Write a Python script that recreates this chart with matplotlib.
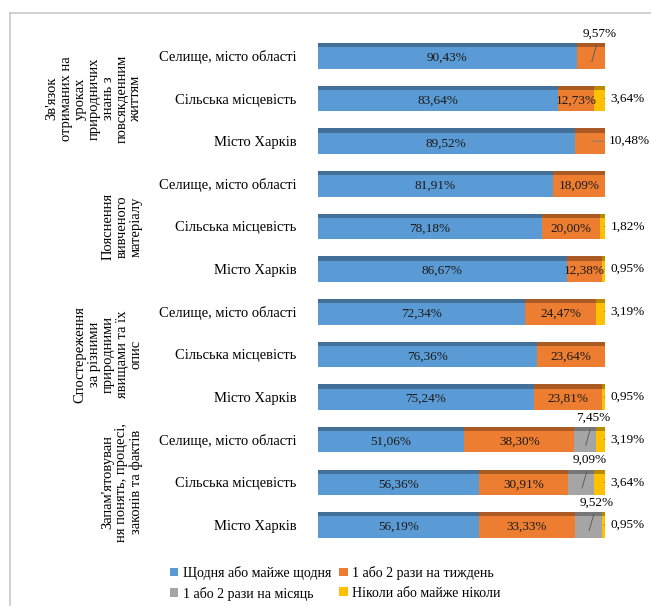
import numpy as np
import matplotlib.pyplot as plt
from matplotlib.lines import Line2D
from matplotlib.colors import to_rgb

# Дані діаграми (зверху вниз)
categories = ['Селище, місто області', 'Сільська місцевість', 'Місто Харків'] * 4
groups = [
    "Зв'язок\nотриманих на\nуроках\nприродничих\nзнань з\nповсякденним\nжиттям",
    "Пояснення\nвивченого\nматеріалу",
    "Спостереження\nза різними\nприродними\nявищами та їх\nопис",
    "Запам'ятовуван\nня понять, процесі,\nзаконів та фактів",
]
daily = [90.43, 83.64, 89.52, 81.91, 78.18, 86.67, 72.34, 76.36, 75.24, 51.06, 56.36, 56.19]
weekly = [9.57, 12.73, 10.48, 18.09, 20.00, 12.38, 24.47, 23.64, 23.81, 38.30, 30.91, 33.33]
monthly = [0, 0, 0, 0, 0, 0, 0, 0, 0, 7.45, 9.09, 9.52]
never = [0, 3.64, 0, 0, 1.82, 0.95, 3.19, 0, 0.95, 3.19, 3.64, 0.95]
series_names = ['Щодня або майже щодня', '1 або 2 рази на тиждень',
                '1 або 2 рази на місяць', 'Ніколи або майже ніколи']
colors = ['#5B9BD5', '#ED7D31', '#A5A5A5', '#FFC000']

plt.rcParams['font.family'] = ['Liberation Serif', 'DejaVu Serif']

fig = plt.figure(figsize=(6.51, 6.06), dpi=100)
ax = fig.add_axes([0.488, 0.0985, 0.441, 0.8445])

y = np.arange(len(categories))
h = 0.6
series = [daily, weekly, monthly, never]
left = np.zeros(len(categories))
handles = []
for vals, col, name in zip(series, colors, series_names):
    vals = np.array(vals)
    b = ax.barh(y, vals, height=h, left=left, color=col, label=name)
    handles.append(b)
    # темніша верхня грань (імітація 3D)
    dark = tuple(c * 0.72 for c in to_rgb(col))
    ax.barh(y - h / 2 + 0.05, vals, height=0.1, left=left, color=dark)
    left = left + vals

def fmt(v):
    return f"{v:.2f}%".replace('.', ',')

fs = 9.5
starts = np.zeros(len(categories))
for k, vals in enumerate(series):
    for i, v in enumerate(vals):
        if v <= 0:
            continue
        cx = starts[i] + v / 2
        if v >= 11:
            ax.text(cx, y[i] + 0.05, fmt(v), ha='center', va='center', fontsize=fs, color='#1a1a1a')
        elif k == 1 and i == 2:
            ax.annotate(fmt(v), xy=(cx, y[i]), xytext=(101.5, y[i]), ha='left', va='center', fontsize=fs,
                        annotation_clip=False,
                        arrowprops=dict(arrowstyle='-', color='#777777', lw=0.6))
        elif k == 3:
            ax.annotate(fmt(v), xy=(99.8, y[i]), xytext=(102, y[i]), ha='left', va='center', fontsize=fs,
                        annotation_clip=False,
                        arrowprops=dict(arrowstyle='-', color='#777777', lw=0.6))
        else:
            ax.annotate(fmt(v), xy=(cx, y[i] + 0.2), xytext=(cx + 3, y[i] - 0.52), ha='center', va='center',
                        fontsize=fs, annotation_clip=False,
                        arrowprops=dict(arrowstyle='-', color='#555555', lw=0.6))
    starts = starts + np.array(vals)

ax.set_xlim(0, 100)
ax.set_ylim(len(categories) - 0.5, -0.5)
ax.set_yticks(y)
ax.set_yticklabels(categories, fontsize=10.5)
ax.tick_params(axis='y', length=0, pad=15)
ax.set_xticks([])
for s in ax.spines.values():
    s.set_visible(False)

# назви груп (повернуті)
for g, text in enumerate(groups):
    yc = g * 3 + 1
    ax.text(-0.61, yc, text, transform=ax.get_yaxis_transform(), rotation=90, ha='right', va='center',
            multialignment='center', fontsize=10.5, linespacing=1.1)

order = [0, 2, 1, 3]
fig.legend([handles[i] for i in order], [series_names[i] for i in order], loc='lower center',
           bbox_to_anchor=(0.515, -0.012), ncol=2, frameon=False, fontsize=10,
           handlelength=0.6, handleheight=0.6, columnspacing=0.6, handletextpad=0.3, labelspacing=0.5)

# рамка (видно лише лівий та верхній край)
fig.add_artist(Line2D([0.016, 0.016], [0.0, 0.979], transform=fig.transFigure, color='#c8c8c8', lw=1.2))
fig.add_artist(Line2D([0.016, 1.0], [0.979, 0.979], transform=fig.transFigure, color='#c8c8c8', lw=1.2))

fig.savefig('out.png', dpi=100, facecolor='white')
